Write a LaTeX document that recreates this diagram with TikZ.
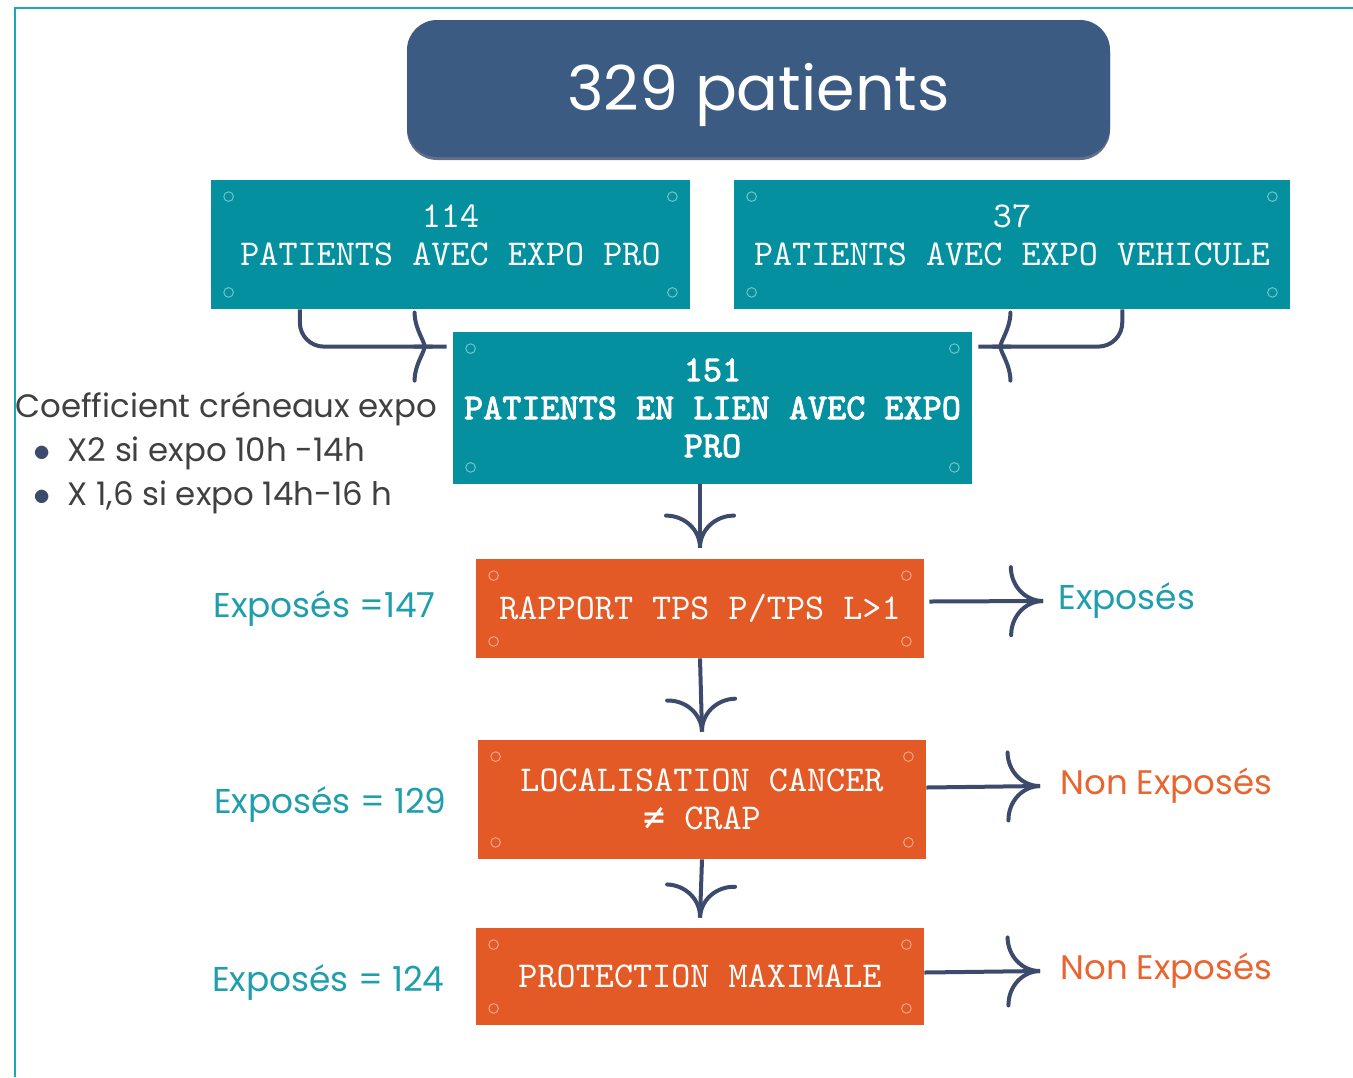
\documentclass[tikz,border=0pt]{standalone}
\usepackage{fontspec}
\usepackage{xcolor}
\usetikzlibrary{calc, decorations.markings, shadows}

\setmainfont{Poppins}
\newfontfamily\boxfont{lmmono10-regular}[Extension=.otf]
\newfontfamily\boxbold{lmmono10-regular}[Extension=.otf, FakeBold=2.5]
\newfontfamily\symfont{DejaVu Sans Mono}

\definecolor{navy}{HTML}{3C4A6B}
\definecolor{headblue}{HTML}{3B5B82}
\definecolor{boxteal}{HTML}{04909F}
\definecolor{boxorange}{HTML}{E45A26}
\definecolor{txtteal}{HTML}{1F9EAC}
\definecolor{txtorange}{HTML}{E9642F}
\definecolor{frameteal}{HTML}{1AA8B5}

% four small screws in the corners of a box
\newcommand{\screws}[2]{%
  \foreach \corner/\dx/\dy in {north west/18/17, north east/-18/17,
                                south west/18/-17, south east/-18/-17}
    \draw[#2, line width=0.5pt] ($(#1.\corner)+(\dx,\dy)$) circle (2.4pt);
}

\begin{document}
\begin{tikzpicture}[x=0.5pt, y=-0.5pt]
	\tikzstyle{frame}   = [draw=frameteal, line width=1pt]
	\tikzstyle{headbox} = [fill=headblue, text=white, rounded corners=15pt,
	                       minimum width=351.5pt, minimum height=68.5pt, text depth=2pt,
	                       drop shadow={shadow xshift=0pt, shadow yshift=-1.5pt, fill=navy!80, opacity=1},
	                       font=\fontsize{31}{36}\selectfont]
	\tikzstyle{tealbox} = [fill=boxteal, text=white, align=center, inner sep=0pt,
	                       font=\boxfont\fontsize{18.2}{19}\selectfont]
	\tikzstyle{orgbox}  = [fill=boxorange, text=white, align=center, inner sep=0pt,
	                       minimum width=224pt, font=\boxfont\fontsize{18.2}{19}\selectfont]
	\tikzstyle{side}    = [text=txtteal, font=\fontsize{17.2}{20}\selectfont, inner sep=0pt]
	\tikzstyle{outno}   = [text=txtorange, font=\fontsize{17}{20}\selectfont, inner sep=0pt]
	\tikzstyle{note}    = [text=black!75, align=left, inner sep=0pt,
	                       font=\fontsize{16.2}{22}\selectfont]
	\tikzstyle{flow}    = [draw=navy, line width=2pt, postaction={decorate},
	                       decoration={markings, mark=at position 1 with {
	                         \draw[navy, line width=2pt, line cap=round]
	                           (-16pt,17pt) .. controls (-16pt,7.6pt) and (-8.8pt,0pt) .. (0pt,0pt)
	                           .. controls (-8.8pt,0pt) and (-16pt,-7.6pt) .. (-16pt,-17pt);}}]

	\useasboundingbox (0,0) rectangle (1353,1077);
	\draw[frame] (15,1077) -- (15,8) -- (1353,8);

	% boxes
	\node[headbox]                                              at (758.5, 88.5)  (total) {329 patients};
	\node[tealbox, minimum width=239.5pt, minimum height=64.5pt,
	      text depth=9pt]                                       at (450.5, 244.5) (pro)   {114\\PATIENTS AVEC EXPO PRO};
	\node[tealbox, minimum width=278pt, minimum height=64.5pt,
	      text depth=9pt]                                       at (1012, 244.5)  (veh)   {37\\PATIENTS AVEC EXPO VEHICULE};
	\node[tealbox, minimum width=259.5pt, minimum height=76pt,
	      font=\boxbold\fontsize{18.2}{19}\selectfont]          at (712.5, 408)   (lien)  {151\\PATIENTS EN LIEN AVEC EXPO\\PRO};
	\node[orgbox, minimum height=49.5pt]                         at (700, 608.5)   (ratio) {RAPPORT TPS P/TPS L>1};
	\node[orgbox, minimum height=59.5pt]                         at (702, 799.5)   (loc)   {LOCALISATION CANCER\\{\symfont ≠} CRAP};
	\node[orgbox, minimum height=48.5pt]                         at (700, 976.5)   (prot)  {PROTECTION MAXIMALE};

	\screws{pro}{boxteal!55!white}
	\screws{veh}{boxteal!55!white}
	\screws{lien}{boxteal!55!white}
	\screws{ratio}{boxorange!55!white}
	\screws{loc}{boxorange!55!white}
	\screws{prot}{boxorange!55!white}

	% side texts
	\node[note, anchor=west] at (15, 453) (coef)
	  {Coefficient créneaux expo\\
	   \hspace*{9pt}{\color{navy}$\bullet$}\hspace{8.5pt}X2 si expo 10h -14h\\
	   \hspace*{9pt}{\color{navy}$\bullet$}\hspace{8.5pt}X 1,6 si expo 14h-16 h};
	\node[side, anchor=east]  at (436, 609)  (n147) {Exposés =147};
	\node[side, anchor=east]  at (447, 805)  (n129) {Exposés = 129};
	\node[side, anchor=east]  at (445, 983)  (n124) {Exposés = 124};
	\node[side, anchor=west]  at (1058, 601) (oexp) {Exposés};
	\node[outno, anchor=west] at (1060, 786) (ono1) {Non Exposés};
	\node[outno, anchor=west] at (1060, 971) (ono2) {Non Exposés};

	% connectors
	\draw[flow, rounded corners=12pt] ($(pro.south west)!0.186!(pro.south east)$) |- ($(lien.north west)+(-6,15)$);
	\draw[flow, rounded corners=12pt] ($(veh.south west)!0.698!(veh.south east)$) |- ($(lien.north east)+(6,15)$);
	\draw[flow] (lien.south -| ratio.north) -- ($(ratio.north)+(0,-11)$);
	\draw[flow] (ratio.south) -- ($(loc.north)+(0,-8)$);
	\draw[flow] (loc.south) -- ($(prot.north)+(0,-10)$);
	\draw[flow] ($(ratio.east)+(5,-7)$) -- ($(oexp.west)+(-15,0)$);
	\draw[flow] ($(loc.east)+(0,-12)$)  -- ($(ono1.west)+(-20,0)$);
	\draw[flow] ($(prot.east)+(0,-4)$)  -- ($(ono2.west)+(-20,0)$);
\end{tikzpicture}
\end{document}
